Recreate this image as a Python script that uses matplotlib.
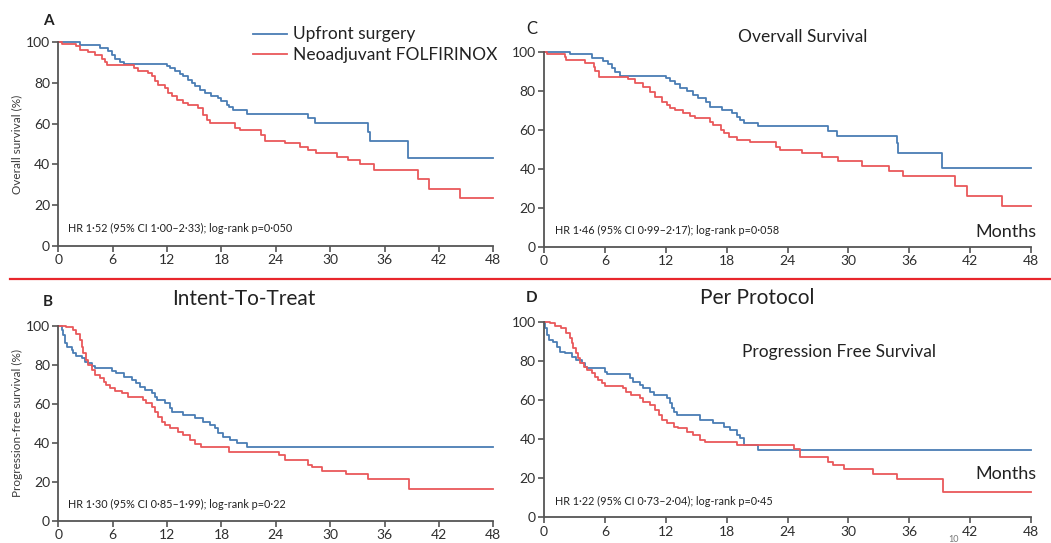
import matplotlib.pyplot as plt
from matplotlib.lines import Line2D

W, H = 1051, 543

# Kaplan-Meier curves: month of each step and survival (%) after it
# A: overall survival, intent-to-treat
a_up_months = [0, 2.4, 4.6, 5.5, 5.9, 6.25, 6.8, 7.2, 12.0, 12.3, 12.9, 13.4, 13.8, 14.3, 14.7, 15.1,
               15.6, 16.2, 16.9, 17.6, 18.0, 18.6, 18.8, 19.3, 20.8, 27.6, 28.3, 34.2, 34.4, 38.6, 48]
a_up_surv = [100, 98.8, 97.2, 95.6, 94, 92, 90.3, 89.3, 88.2, 87.3, 86, 84.4, 83.2, 81.6, 80, 78.3,
             76.7, 75, 73.7, 72.5, 71, 69.2, 68, 66.8, 64.8, 62.6, 60.2, 56, 51.5, 43.0, 43.0]
a_neo_months = [0, 0.4, 2.0, 2.4, 3.3, 4.0, 4.8, 5.2, 5.4, 8.3, 8.8, 9.9, 10.3, 10.7, 11.0, 11.8, 12.1,
                12.5, 13.1, 13.8, 14.3, 15.4, 16.0, 16.4, 16.7, 19.5, 20.0, 22.4, 22.8, 25.0, 26.7,
                27.6, 28.4, 30.7, 32.0, 33.3, 34.8, 39.7, 40.9, 44.3, 48]
a_neo_surv = [100, 99.3, 98, 96.4, 95, 93.6, 92, 90.5, 88.7, 87.3, 86, 84.9, 83.2, 80.8, 79.2, 77.5, 75,
              73.4, 71.8, 70, 69.2, 67.5, 64.3, 61.8, 60.2, 58, 57, 54.4, 51.5, 50.3, 48.7,
              47, 45.4, 43.8, 42.1, 40.0, 37.2, 32.8, 27.9, 23.6, 23.6]

# C: overall survival, per protocol
c_up_months = [0, 2.6, 4.7, 5.85, 6.3, 6.7, 7.0, 7.5, 12.0, 12.4, 12.9, 13.4, 14.1, 14.7, 15.2, 16.0,
               16.4, 17.5, 18.5, 19.0, 19.3, 19.7, 21.1, 28.0, 28.9, 34.8, 34.9, 39.2, 48]
c_up_surv = [100, 98.6, 96.9, 95.2, 93.5, 91.8, 89.7, 87.7, 86.3, 84.9, 83.2, 81.5, 79.8, 77.8, 76.1, 74,
             71.8, 70, 68.4, 66.7, 65, 63.6, 62.0, 59.3, 56.9, 53, 48.2, 40.2, 40.2]
c_neo_months = [0, 0.3, 2.1, 2.2, 4.0, 4.9, 5.0, 5.4, 8.3, 9.0, 9.8, 10.4, 10.9, 11.6, 12.1, 12.4, 12.9,
                13.7, 14.4, 14.9, 16.4, 16.7, 17.4, 17.7, 18.2, 19.0, 20.3, 22.9, 23.3, 25.4, 27.4,
                29.0, 31.3, 34.0, 35.4, 40.5, 41.7, 45.1, 48]
c_neo_surv = [100, 98.6, 97.4, 95.7, 94, 92.3, 90.1, 86.8, 85.8, 84.1, 82, 79.5, 77, 74.4, 72.6, 71.3, 70,
              68.4, 67.2, 65.8, 64.1, 62.4, 59.8, 58.1, 56.4, 54.7, 53.5, 51.3, 49.6, 48.2, 46.2,
              43.9, 41.5, 39, 36.4, 31.3, 26.2, 21.0, 21.0]

# B: progression-free survival, intent-to-treat
b_up_months = [0, 0.37, 0.55, 0.74, 0.92, 1.47, 1.65, 2.0, 2.57, 2.94, 3.3, 3.68, 4.04, 5.9, 6.4, 7.2,
               8.1, 8.6, 9.0, 9.6, 10.3, 10.7, 10.85, 11.8, 12.3, 12.5, 13.8, 15.1, 16.0, 16.7, 17.3,
               17.6, 18.2, 18.9, 19.7, 20.8, 48]
b_up_surv = [100, 97.8, 95, 91, 89.2, 87.5, 85.8, 84.4, 83.2, 81.5, 80.7, 79.3, 78.1, 76.9, 75.6, 73.8,
             72.1, 70.4, 68.7, 67, 65.3, 63.6, 61.9, 60.2, 57.6, 55.9, 54.2, 52.5, 50.8, 49.1, 47.4,
             44.8, 43.1, 41.4, 39.7, 37.9, 37.9]
b_neo_months = [0, 0.9, 1.65, 2.0, 2.4, 2.57, 2.76, 3.1, 3.3, 3.7, 4.04, 4.6, 5.0, 5.3, 5.7, 6.25, 7.0,
                7.7, 9.4, 9.7, 10.3, 10.7, 11.0, 11.4, 11.8, 12.3, 13.2, 13.8, 14.5, 15.1, 15.8, 18.8,
                24.3, 25.0, 27.6, 28.0, 29.1, 31.8, 34.2, 38.7, 48]
b_neo_surv = [100, 99.1, 98, 96, 92.6, 89.2, 85.8, 82.4, 79.8, 77.3, 74.7, 73, 71.3, 69.6, 67.9, 66.7, 65.3,
              63.6, 61.9, 60.2, 58.5, 56, 53.3, 50.8, 49.1, 47.4, 45.7, 44, 41.4, 39.3, 37.9, 35.4,
              33.7, 31.1, 28.6, 27.7, 25.6, 23.9, 21.5, 16.1, 16.1]

# D: progression-free survival, per protocol
d_up_months = [0, 0.1, 0.33, 0.53, 0.92, 1.25, 1.58, 2.07, 2.73, 3.2, 3.7, 4.04, 4.2, 6.0, 6.2, 8.5,
               8.8, 9.5, 9.8, 10.4, 10.8, 12.1, 12.4, 12.6, 12.8, 13.1, 15.4, 16.7, 17.7, 18.3, 19.0,
               19.3, 19.7, 21.1, 48]
d_up_surv = [100, 96.6, 93.2, 90.6, 89.8, 87.2, 84.7, 83.8, 82.1, 80.4, 78.7, 77, 76.1, 74.4, 73.1, 71,
             69.3, 67.6, 65.9, 64.2, 62.5, 60.8, 58.3, 55.7, 54, 52.3, 49.7, 48, 46.3, 44.6, 42.1,
             40.4, 37.1, 34.4, 34.4]
d_neo_months = [0, 0.6, 1.1, 1.7, 2.2, 2.56, 2.73, 2.9, 3.2, 3.4, 3.55, 3.9, 4.2, 4.7, 5.0, 5.36, 5.7,
                6.0, 7.8, 8.1, 8.6, 9.5, 9.8, 10.4, 10.9, 11.3, 11.6, 12.1, 12.8, 13.2, 14.1, 14.7,
                15.4, 15.9, 19.0, 24.6, 25.2, 28.0, 28.5, 29.6, 32.4, 34.8, 39.3, 48]
d_neo_surv = [100, 99.1, 98, 96.6, 94, 91.5, 88.9, 86.4, 83.8, 81.3, 78.7, 77, 75.3, 73.6, 71.9, 70.2, 68.5,
              67.3, 65.9, 64.2, 62.5, 60.8, 59.1, 57.4, 54.8, 52.3, 49.7, 48, 46.3, 45.5, 43.8, 42.1,
              39.5, 38.3, 37, 34.9, 31.0, 28.4, 26.7, 24.5, 22.1, 19.6, 13.1, 13.1]

x_ticks = [0, 6, 12, 18, 24, 30, 36, 42, 48]
y_ticks = [0, 20, 40, 60, 80, 100]

BLUE = '#4a7db4'
RED = '#e9585b'
AXIS = '#555555'
NARROW = ['Liberation Sans Narrow', 'Lato', 'DejaVu Sans']
SANS = ['Lato', 'DejaVu Sans']

plt.rcParams['font.family'] = SANS


def fx(x):
    return x / W


def fy(y):
    return 1 - y / H


def make_axes(fig, x0, x1, ybot, ytop):
    ax = fig.add_axes([fx(x0), fy(ybot), fx(x1 - x0), (ybot - ytop) / H])
    ax.set_xlim(0, 48)
    ax.set_ylim(0, 100)
    ax.set_xticks(x_ticks)
    ax.set_yticks(y_ticks)
    ax.spines['top'].set_visible(False)
    ax.spines['right'].set_visible(False)
    for side in ['left', 'bottom']:
        ax.spines[side].set_color(AXIS)
        ax.spines[side].set_linewidth(1.3)
    ax.tick_params(length=4, width=1.2, color=AXIS, labelsize=10, labelcolor='#2e2e2e', pad=2)
    for lab in ax.get_xticklabels() + ax.get_yticklabels():
        lab.set_family(NARROW)
    ax.patch.set_alpha(0)
    return ax


def draw_curves(ax, up_m, up_s, neo_m, neo_s):
    ax.step(up_m, up_s, where='post', color=BLUE, lw=1.3, clip_on=False)
    ax.step(neo_m, neo_s, where='post', color=RED, lw=1.3, clip_on=False)


def put(fig, x, y, s, size, family=SANS, weight='normal', ha='center', color='#222222'):
    fig.text(fx(x), fy(y), s, fontsize=size, family=family, weight=weight,
             ha=ha, va='center', color=color)


def main():
    fig = plt.figure(figsize=(W / 100, H / 100), dpi=100)

    ax_a = make_axes(fig, 58.3, 493.3, 245.7, 42.3)
    draw_curves(ax_a, a_up_months, a_up_surv, a_neo_months, a_neo_surv)
    ax_c = make_axes(fig, 544, 1031, 246.7, 51.7)
    draw_curves(ax_c, c_up_months, c_up_surv, c_neo_months, c_neo_surv)
    ax_b = make_axes(fig, 58.3, 493.3, 520.7, 325.7)
    draw_curves(ax_b, b_up_months, b_up_surv, b_neo_months, b_neo_surv)
    ax_d = make_axes(fig, 544, 1031, 517.3, 321.7)
    draw_curves(ax_d, d_up_months, d_up_surv, d_neo_months, d_neo_surv)

    # red separator between the two rows
    fig.add_artist(Line2D([fx(10), 1.0], [fy(279), fy(279)], transform=fig.transFigure,
                          color='#e8262c', lw=1.6))

    # legend
    fig.add_artist(Line2D([fx(253), fx(287)], [fy(34), fy(34)], transform=fig.transFigure,
                          color=BLUE, lw=1.3))
    fig.add_artist(Line2D([fx(253), fx(287)], [fy(54), fy(54)], transform=fig.transFigure,
                          color=RED, lw=1.3))
    put(fig, 293, 34, 'Upfront surgery', 12.5, ha='left')
    put(fig, 293, 55, 'Neoadjuvant FOLFIRINOX', 12.5, ha='left')

    # panel letters and titles
    put(fig, 48, 21, 'A', 11, weight='bold')
    put(fig, 532, 29, 'C', 12)
    put(fig, 48, 302, 'B', 11, weight='bold')
    put(fig, 532, 298, 'D', 11, weight='bold')
    put(fig, 803, 37, 'Overvall Survival', 12.5)
    put(fig, 244, 299, 'Intent-To-Treat', 15)
    put(fig, 757, 298, 'Per Protocol', 15)
    put(fig, 839, 352, 'Progression Free Survival', 12.5)
    put(fig, 1006, 232, 'Months', 13)
    put(fig, 1006, 474, 'Months', 13)

    # y-axis labels
    fig.text(fx(17), fy(144), 'Overall survival (%)', rotation=90, fontsize=8.5,
             family=NARROW, ha='center', va='center', color='#3a3a3a')
    fig.text(fx(17), fy(423), 'Progression-free survival (%)', rotation=90, fontsize=8.5,
             family=NARROW, ha='center', va='center', color='#3a3a3a')

    # hazard ratio notes
    put(fig, 68, 228, 'HR 1·52 (95% CI 1·00–2·33); log-rank p=0·050', 7.8, family=NARROW, ha='left')
    put(fig, 555, 230, 'HR 1·46 (95% CI 0·99–2·17); log-rank p=0·058', 7.8, family=NARROW, ha='left')
    put(fig, 68, 504, 'HR 1·30 (95% CI 0·85–1·99); log-rank p=0·22', 7.8, family=NARROW, ha='left')
    put(fig, 555, 501, 'HR 1·22 (95% CI 0·73–2·04); log-rank p=0·45', 7.8, family=NARROW, ha='left')

    # page number showing through
    put(fig, 954, 539, '10', 6.5, color='#777777')

    fig.savefig('out.png', dpi=100)


if __name__ == '__main__':
    main()
